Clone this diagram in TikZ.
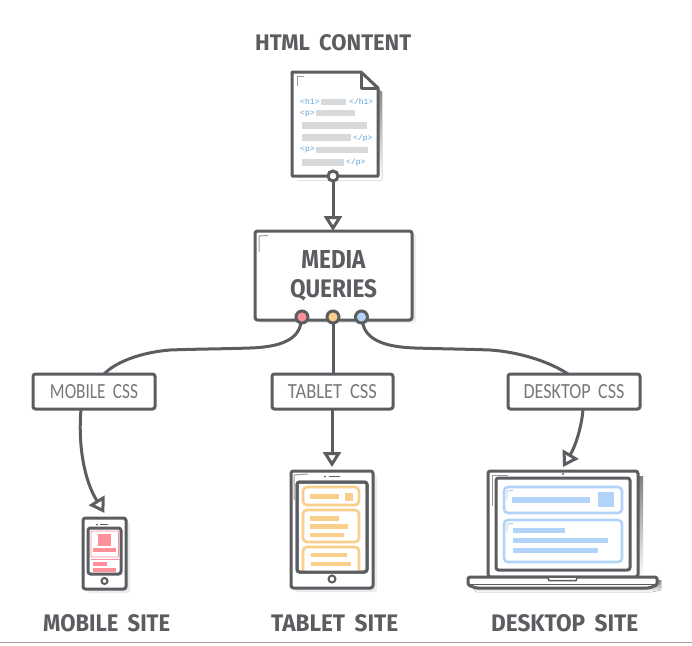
\documentclass[tikz,border=0pt]{standalone}
\usepackage{fontspec}
\usepackage{graphicx}
\usetikzlibrary{arrows.meta}
\newfontfamily\headf{Fira Sans}
\newfontfamily\thinf{Carlito}
\newfontfamily\tagf{Liberation Mono}
\definecolor{ink}{HTML}{5C5D61}
\definecolor{labelink}{HTML}{77787C}
\definecolor{shade}{HTML}{EBECED}
\definecolor{barg}{HTML}{D8D9DB}
\definecolor{tagb}{HTML}{5F9FD8}
\definecolor{pinkc}{HTML}{FF8F99}
\definecolor{yelc}{HTML}{F9CF8B}
\definecolor{bluc}{HTML}{B2D4FA}
\definecolor{thinl}{HTML}{9A9B9E}
\newcommand\fitlab[3]{\resizebox{#1pt}{#2pt}{#3}}
\newcommand\wgap{\hspace{.42em}}
\tikzset{
 x=1pt,y=-1pt,
 heavy/.style={draw=ink,line width=3pt,fill=white,rounded corners=2.5pt,inner sep=0pt,outer sep=0pt,text=ink},
 cssbox/.style={heavy,font=\thinf,text=labelink},
 conn/.style={draw=ink,line width=3pt,-{Triangle[open,length=15pt,width=18pt,fill=white,line width=3pt]}},
 plainconn/.style={draw=ink,line width=3pt},
 dot/.style={circle,draw=ink,line width=3pt,minimum size=12pt,inner sep=0pt,outer sep=0pt},
 title/.style={anchor=base west,inner sep=0pt,text=ink,font=\headf\bfseries},
 tag/.style={anchor=west,inner sep=0pt,text=tagb,font=\tagf\fontsize{8}{8}\selectfont},
 shadow/.style={fill=shade,rounded corners=2.5pt},
 graybar/.style={fill=barg},
 hl/.style={draw=thinl,line width=1pt,fill=none},
 card/.style={line width=2.6pt,rounded corners=4pt,fill=white},
}
\begin{document}
\begin{tikzpicture}
\useasboundingbox (0,0) rectangle (692,645);
\fill[white] (0,0) rectangle (692,645);
\draw[color=black!35,line width=.8pt] (0,642) -- (692,642);

% titles
\node[title] (thtml) at (255,50) {\fitlab{156}{16}{HTML\wgap CONTENT}};
\node[title] (tmob) at (43,631) {\fitlab{127}{17}{MOBILE\wgap SITE}};
\node[title] (ttab) at (271,631) {\fitlab{127}{17}{TABLET\wgap SITE}};
\node[title] (tdesk) at (491,631) {\fitlab{147}{17}{DESKTOP\wgap SITE}};

% document
\fill[shade] (297,80) -- (365,80) -- (382,92) -- (382,180) -- (297,180) -- cycle;
\draw[draw=ink,line width=3pt,fill=white,line join=round] (292,72) -- (361,72) -- (378,88) -- (378,176) -- (292,176) -- cycle;
\draw[draw=ink,line width=3pt,line join=round] (361,72) -- (361,88) -- (378,88);
\draw[hl] (297,86) -- (297,76) -- (304,76);
\node[tag] (t1) at (300,102) {<h1>};
\fill[graybar] (321,99) rectangle (346,105);
\node[tag] (t2) at (349,102) {</h1>};
\node[tag] (t3) at (300,113.5) {<p>};
\fill[graybar] (316,110) rectangle (355,116);
\fill[graybar] (302,122) rectangle (367,129);
\fill[graybar] (302,134) rectangle (351,141);
\node[tag] (t4) at (353,138) {</p>};
\node[tag] (t5) at (300,150) {<p>};
\fill[graybar] (316,147) rectangle (368,153);
\fill[graybar] (302,159) rectangle (344,166);
\node[tag] (t6) at (346,162) {</p>};
\node[dot,fill=white,minimum size=10pt] (docdot) at (333,176) {};

% media queries
\fill[shadow] (259,234) rectangle (416,323);
\node[heavy,minimum width=157pt,minimum height=89pt,align=center,font=\headf\fontsize{10}{29}\selectfont\bfseries] (media) at (333.5,275.5)
 {\fitlab{64}{18}{MEDIA}\\\fitlab{87}{18}{QUERIES}};
\draw[hl] (259,252) -- (259,236) -- (268,235.5);
\node[dot,fill=pinkc] (dp) at (302,317) {};
\node[dot,fill=yelc] (dy) at (333,317) {};
\node[dot,fill=bluc] (db) at (361.5,317) {};
\draw[conn] (docdot) -- (media.north -| docdot);

% css boxes
\node[cssbox,minimum width=122pt,minimum height=35pt] (cssm) at (94,391.5) {\fitlab{88}{14}{MOBILE\wgap CSS}};
\node[cssbox,minimum width=121pt,minimum height=35pt] (csst) at (332.5,391.5) {\fitlab{89}{14}{TABLET\wgap CSS}};
\node[cssbox,minimum width=132pt,minimum height=35pt] (cssd) at (574,391.5) {\fitlab{101}{14}{DESKTOP\wgap CSS}};

% connectors dots to boxes
\draw[plainconn] (dp) .. controls (298,340) and (280,347) .. (250,348) .. controls (220,349) and (195,349) .. (170,350) .. controls (145,352) and (118,360) .. ([xshift=10pt]cssm.north);
\draw[plainconn] (dy) -- (csst.north -| dy);
\draw[plainconn] (db) .. controls (366,340) and (385,347) .. (415,348) .. controls (445,349) and (465,349) .. (490,350) .. controls (520,352) and (550,362) .. ([xshift=-6pt]cssd.north);

% phone
\fill[shadow] (87,522) rectangle (130,593);
\node[heavy,minimum width=43pt,minimum height=71pt] (phone) at (104.5,553.5) {};
\node[heavy,minimum width=33pt,minimum height=46pt] (pscreen) at (104.5,551) {};
\begin{scope}[pinkc]
\draw[line width=.8pt,rounded corners=1pt] (91,531) rectangle (118.5,557);
\draw[line width=.8pt,rounded corners=1pt] (91,559.5) -- (118.5,559.5);
\fill (98,534) rectangle (111,546);
\fill (93,548) rectangle (116,552);
\fill (93,562) rectangle (107,566);
\fill (93,568) rectangle (116,571.5);
\end{scope}
\fill[ink] (97,524.5) circle (1pt);
\draw[ink,line width=1.5pt] (100,524.5) -- (108,524.5);
\draw[ink,line width=2pt,fill=white] (104.5,581) circle (3pt);

% tablet
\fill[shadow] (295,475) rectangle (377,592);
\node[heavy,minimum width=82pt,minimum height=117pt] (tablet) at (332,529.5) {};
\draw[hl] (294,500) -- (294,475) -- (308,474);
\node[heavy,minimum width=70pt,minimum height=90pt] (tscreen) at (332,527) {};
\begin{scope}
\clip (298.5,483.5) rectangle (365.5,570.5);
\draw[card,draw=yelc] (303,487) rectangle (359,505);
\fill[yelc] (310,494) rectangle (339,499);
\fill[yelc] (345,493) rectangle (353,501);
\draw[card,draw=yelc] (303,510) rectangle (359,542);
\fill[yelc] (310,516) rectangle (339,521);
\fill[yelc] (310,524) rectangle (348,529);
\fill[yelc] (310,533) rectangle (344,537);
\draw[card,draw=yelc] (303,547) rectangle (359,585);
\fill[yelc] (311,553) rectangle (347,557);
\fill[yelc] (311,562) rectangle (351,566);
\end{scope}
\draw[ink,line width=3pt,rounded corners=2.5pt] (297,482) rectangle (367,572);
\fill[ink] (325,476.5) circle (1pt);
\draw[ink,line width=1.5pt] (329,476.5) -- (340,476.5);
\draw[ink,line width=2pt,fill=white] (332,579) circle (3.5pt);

% laptop
\fill[shade] (638,476) rectangle (643,580);
\fill[shade] (472,586) -- (661,580) -- (661,590) -- (652,592) -- (476,592) -- cycle;
\node[heavy,minimum width=150pt,minimum height=106pt] (laptop) at (563,524) {};
\draw[hl] (492,506) -- (492,475) -- (508,475);
\node[heavy,minimum width=134pt,minimum height=92pt] (lscreen) at (563,524) {};
\draw[card,draw=bluc] (504,487) rectangle (622,513);
\fill[bluc] (512,497) rectangle (590,503);
\fill[bluc] (598,492) rectangle (614,507);
\draw[card,draw=bluc] (504,520) rectangle (622,562);
\fill[bluc] (513,528) rectangle (565,533);
\fill[bluc] (513,538) rectangle (608,543);
\fill[bluc] (513,548) rectangle (598,553);
\draw[bluc!70!thinl,line width=.8pt] (507,499) -- (507,491) -- (513,490.5);
\draw[bluc!70!thinl,line width=.8pt] (507,532) -- (507,524) -- (513,523.5);
\fill[ink] (563,474) circle (1.2pt);
\draw[draw=ink,line width=3pt,fill=white,line join=round,rounded corners=1.5pt] (468,577) -- (657,577) -- (657,585) -- (649,588) -- (476,588) -- (468,585) -- cycle;
\draw[ink,line width=1.5pt] (470,584.5) -- (655,584.5);
\draw[ink,line width=1.5pt,fill=white] (548,578) -- (549,580.5) -- (576,580.5) -- (577,578);

% connectors boxes to devices
\draw[conn] ([xshift=-13pt]cssm.south) .. controls (78,445) and (84,480) .. ([yshift=5pt]phone.north);
\draw[conn] (csst.south -| tablet) -- ([yshift=4pt]tablet.north);
\draw[conn] ([xshift=9pt]cssd.south) .. controls (582,425) and (576,445) .. ([yshift=4pt]laptop.north);
\end{tikzpicture}
\end{document}
